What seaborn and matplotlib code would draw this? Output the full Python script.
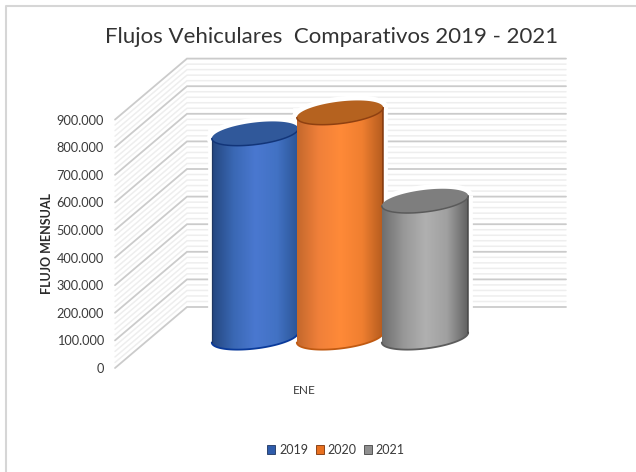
import numpy as np
import pandas as pd
import seaborn as sns
import matplotlib
matplotlib.use("Agg")
import matplotlib.pyplot as plt
from matplotlib.colors import LinearSegmentedColormap
from matplotlib.lines import Line2D
from matplotlib.patches import Patch, PathPatch
from matplotlib.path import Path

# ---- data ----
months = ["ENE"]
years = ["2019", "2020", "2021"]
flows = [739000, 815000, 495000]
y_ticks = [0, 100000, 200000, 300000, 400000, 500000, 600000, 700000, 800000, 900000]
y_tick_labels = ["0", "100.000", "200.000", "300.000", "400.000", "500.000",
                 "600.000", "700.000", "800.000", "900.000"]
title = "Flujos Vehiculares  Comparativos 2019 - 2021"
y_title = "FLUJO MENSUAL"

# ---- style ----
legend_colors = ["#2f5cab", "#e8701f", "#8f8f8f"]
body_stops = [["#24467f", "#3a68b4", "#4a78d0", "#4272c4", "#2a5495"],
              ["#c4682c", "#f0803a", "#ff8a38", "#f07f30", "#b25a1e"],
              ["#6e6e6e", "#989898", "#b0b0b0", "#a0a0a0", "#5e5e5e"]]
cap_colors = ["#30589a", "#b5621f", "#7e7e7e"]
top_edge = ["#123579", "#8f4010", "#5a5a5a"]
base_edge = ["#0a3a9a", "#c05a12", "#5c5c5c"]
side_edge = ["#1e3560", "#7a3208", "#444444"]
W, H = 636, 472
PX_PER_UNIT = 27.6 / 100000
FLOOR_PX = 337.5      # mid-depth floor row
CENTER_PX = 340
SPACING_PX = 85
DEPTH = 30.5 / PX_PER_UNIT
SEMI_A, SEMI_B, TILT = 43.5, 11.0, np.deg2rad(7)

sns.set_theme(style="white")
plt.rcParams["font.family"] = ["Lato", "DejaVu Sans"]
text_color = "#3a3a3a"

fig = plt.figure(figsize=(W / 100, H / 100), dpi=100, facecolor="white")

# main axes: whole figure, y in flow units on the mid-depth plane
ax = fig.add_axes([0, 0, 1, 1])
ax.set_axis_off()
xscale = SPACING_PX * 3 / 0.8
xlim = (-CENTER_PX / xscale, (W - CENTER_PX) / xscale)
ylim = ((FLOOR_PX - H) / PX_PER_UNIT, FLOOR_PX / PX_PER_UNIT)

df = pd.DataFrame({"mes": months * 3, "anio": years, "flujo": flows})
sns.barplot(data=df, x="mes", y="flujo", hue="anio", hue_order=years,
            palette=legend_colors, width=0.8, gap=0, legend=False, ax=ax,
            edgecolor="white", linewidth=7, zorder=2, saturation=1)

# walls
x_front_l, x_back_l, x_back_r = (115 - CENTER_PX) / xscale, (187 - CENTER_PX) / xscale, (566 - CENTER_PX) / xscale
minor = np.arange(0, 900001, 20000)
for v in minor:
    major = v % 100000 == 0
    c = "#cbcbcb" if major else "#eeeeee"
    lw = 1.3 if major else 1.1
    ax.plot([x_front_l, x_back_l, x_back_r], [v - DEPTH, v + DEPTH, v + DEPTH],
            color=c, lw=lw, zorder=1 if major else 0.9, solid_joinstyle="miter")


def ellipse_pts(cx, cy_val, t):
    dx = SEMI_A * np.cos(t) * np.cos(TILT) - SEMI_B * np.sin(t) * np.sin(TILT)
    dy = SEMI_A * np.cos(t) * np.sin(TILT) + SEMI_B * np.sin(t) * np.cos(TILT)
    return np.column_stack([cx + dx / xscale, cy_val + dy / PX_PER_UNIT])


bars = [p for p in ax.patches]
half_w = np.sqrt((SEMI_A * np.cos(TILT)) ** 2 + (SEMI_B * np.sin(TILT)) ** 2)
for i, bar in enumerate(bars):
    cx = bar.get_x() + bar.get_width() / 2
    val = bar.get_height()
    z = 3 + i
    t_ext = np.arctan2(-SEMI_B * np.sin(TILT), SEMI_A * np.cos(TILT))
    # lower arc of the base (left extreme to right extreme), upper arc of the top back
    low = ellipse_pts(cx, 0, np.linspace(np.pi + t_ext, 2 * np.pi + t_ext, 80))
    up = ellipse_pts(cx, val, np.linspace(2 * np.pi + t_ext, np.pi + t_ext, 80))
    body = np.vstack([low, up, low[:1]])
    full_top = ellipse_pts(cx, val, np.linspace(0, 2 * np.pi, 160))

    # white halo under the cap
    ax.add_patch(PathPatch(Path(full_top), fc="white", ec="white", lw=7, zorder=2))

    clip = PathPatch(Path(body), transform=ax.transData, fc="none", ec="none")
    ax.add_patch(clip)
    cmap = LinearSegmentedColormap.from_list(f"c{i}", body_stops[i])
    ex = half_w / xscale
    im = ax.imshow(np.linspace(0, 1, 256)[None, :], cmap=cmap, aspect="auto",
                   extent=(cx - ex, cx + ex, -60000, val + 60000),
                   interpolation="bilinear", zorder=z)
    im.set_clip_path(clip)
    # soft outline: base arc and the side(s) that read dark in the original
    ax.plot(low[:, 0], low[:, 1], color=base_edge[i], lw=1.3, zorder=z + 0.2)
    right = np.array([low[-1], up[0]])
    ax.plot(right[:, 0], right[:, 1], color=side_edge[i], lw=1.1, alpha=0.9, zorder=z + 0.2)
    if i == 0:
        left = np.array([low[0], up[-1]])
        ax.plot(left[:, 0], left[:, 1], color=side_edge[i], lw=0.9, alpha=0.9, zorder=z + 0.2)
    ax.add_patch(PathPatch(Path(full_top), fc=cap_colors[i], ec="none", zorder=z + 0.3))
    ax.plot(up[:, 0], up[:, 1], color=top_edge[i], lw=1.1, zorder=z + 0.4)

ax.set_xlim(xlim)
ax.set_ylim(ylim)

# front axes: carries the real ticks and titles
front_bottom = (H - 368) / H
front_height = (900000 * PX_PER_UNIT) / H
front = fig.add_axes([115 / W, front_bottom, (494 - 115) / W, front_height])
front.patch.set_alpha(0)
for s in front.spines.values():
    s.set_visible(False)
front.set_ylim(0, 900000)
front.set_xlim(-0.5, 0.5)
front.set_yticks(y_ticks, y_tick_labels, fontsize=9.2, color=text_color)
front.set_xticks([0], months, fontsize=8.6, color=text_color)
front.tick_params(axis="y", length=0, pad=8)
front.tick_params(axis="x", length=0, pad=12)
front.set_ylabel(y_title, fontsize=9.0, fontweight="bold", color="#2a2a2a")
front.yaxis.set_label_coords((53 - 115) / (494 - 115), 0.5)

fig.text(332 / W, 1 - 37 / H, title, ha="center", va="center", fontsize=16, color="#333333")

handles = [Patch(facecolor=c, edgecolor=e, lw=0.6) for c, e in zip(legend_colors, side_edge)]
fig.legend(handles, years, loc="center", bbox_to_anchor=(336 / W, 1 - 450 / H), ncol=3,
           frameon=False, fontsize=9, handlelength=0.65, handleheight=0.65,
           handletextpad=0.3, columnspacing=0.6, labelcolor=text_color)

# outer frame: only the top and left edges fall inside the picture
frame_x = [5.5 / W, 5.5 / W, 1.0]
frame_y = [0.0, 1 - 5.5 / H, 1 - 5.5 / H]
fig.add_artist(Line2D(frame_x, frame_y, transform=fig.transFigure, color="#d6d6d6", lw=1.5))

fig.savefig("out.png", dpi=100)
